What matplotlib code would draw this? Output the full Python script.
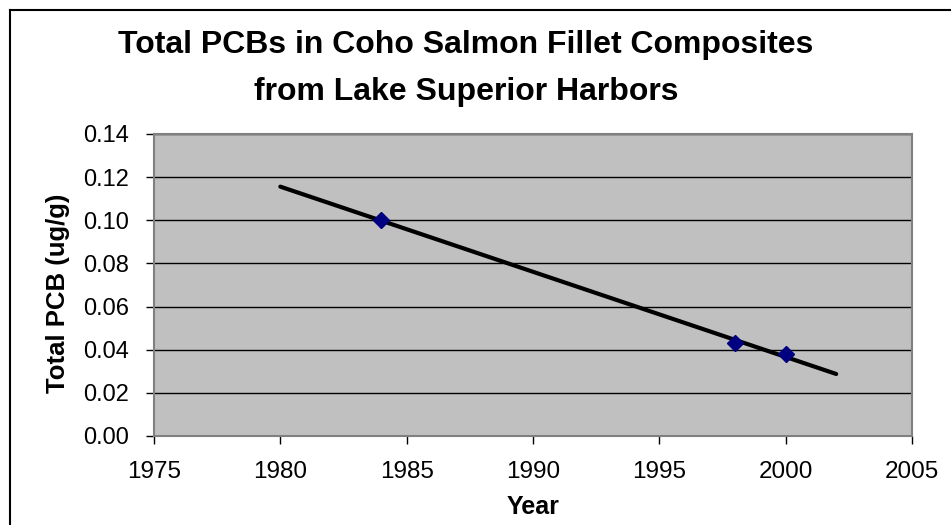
import numpy as np
import matplotlib
matplotlib.use("Agg")
import matplotlib.pyplot as plt
from matplotlib.lines import Line2D

years = [1984, 1998, 2000]
pcb = [0.100, 0.043, 0.038]
trend_range = [1980, 2002]
x_ticks = [1975, 1980, 1985, 1990, 1995, 2000, 2005]
y_ticks = [0.00, 0.02, 0.04, 0.06, 0.08, 0.10, 0.12, 0.14]

plt.rcParams['font.family'] = ['Liberation Sans', 'DejaVu Sans']

fig = plt.figure(figsize=(9.51, 5.25), dpi=100)
ax = fig.add_axes([154/951, 1 - 436/525, (912-154)/951, (436-134)/525])
ax.set_facecolor('#C0C0C0')

coef = np.polyfit(years, pcb, 1)
tx = np.array(trend_range, dtype=float)
ax.plot(tx, np.polyval(coef, tx), color='black', lw=3, solid_capstyle='round', zorder=3)
ax.plot(years, pcb, linestyle='none', marker='D', markersize=8, color='#000080', zorder=4)

ax.set_xlim(1975, 2005)
ax.set_ylim(0, 0.14)
ax.set_xticks(x_ticks)
ax.set_yticks(y_ticks)
ax.set_yticklabels([f"{v:.2f}" for v in y_ticks])
ax.yaxis.grid(True, color='black', lw=1)
ax.set_axisbelow(True)
ax.tick_params(axis='both', direction='out', length=6, width=1, color='black')
ax.tick_params(axis='x', pad=12, labelsize=17.5)
ax.tick_params(axis='y', pad=12, labelsize=17)
for s in ax.spines.values():
    s.set_color('#808080')
    s.set_linewidth(1.5)

ax.set_xlabel('Year', fontsize=18, fontweight='bold')
ax.set_ylabel('Total PCB (ug/g)', fontsize=18.5, fontweight='bold')
ax.xaxis.set_label_coords(0.5, -0.235)
ax.yaxis.set_label_coords(-0.1266, 0.472)
ax.xaxis.label.set_va('center')
ax.yaxis.label.set_va('center')

fig.text(0.49, 1 - 45/525, 'Total PCBs in Coho Salmon Fillet Composites', ha='center', va='center',
         fontsize=23, fontweight='bold')
fig.text(0.49, 1 - 92/525, 'from Lake Superior Harbors', ha='center', va='center',
         fontsize=23, fontweight='bold')

# outer chart border (top and left visible)
fig.add_artist(Line2D([9.5/951, 9.5/951], [0, 1 - 9.5/525], transform=fig.transFigure, color='black', lw=1.5))
fig.add_artist(Line2D([9.5/951, 1], [1 - 9.5/525, 1 - 9.5/525], transform=fig.transFigure, color='black', lw=1.5))

fig.savefig('out.png', dpi=100)
